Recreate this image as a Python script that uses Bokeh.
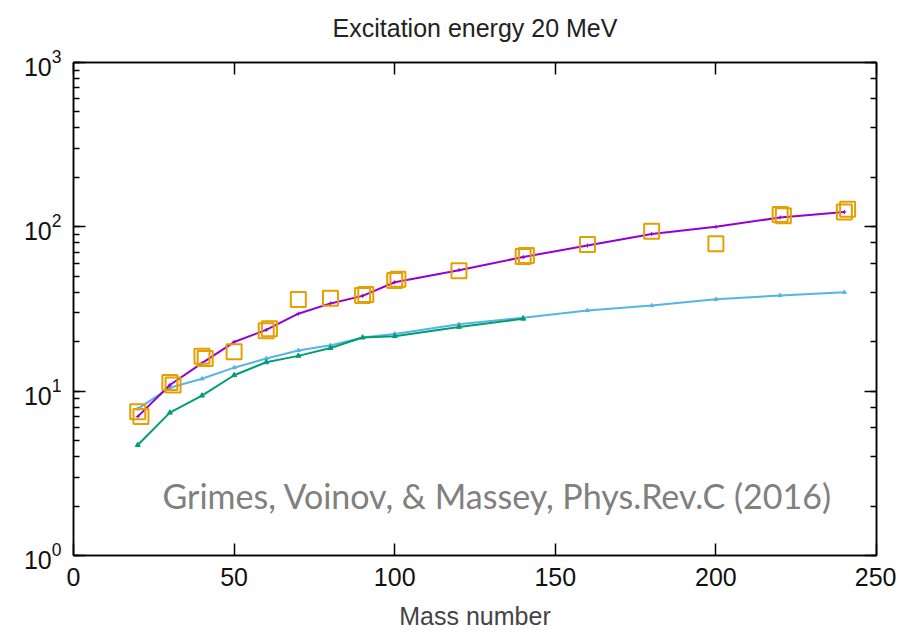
from bokeh.plotting import figure
from bokeh.models import LogAxis, LinearAxis, Label, FixedTicker, Range1d
from bokeh.embed import file_html
from bokeh.resources import INLINE

# Mass numbers
mass = [20, 30, 40, 50, 60, 70, 80, 90, 100, 120, 140, 160, 180, 200, 220, 240]
# Purple model curve
purple_vals = [7.0, 10.9, 14.8, 19.9, 23.6, 29.6, 34.2, 38.0, 46.0, 54.5, 65.5, 77.0, 90.5, 100.0, 114.0, 123.0]
# Blue model curve
blue_mass = [20, 30, 40, 50, 60, 70, 80, 90, 100, 120, 140, 160, 180, 200, 220, 240]
blue_vals = [7.8, 10.5, 11.9, 13.9, 15.8, 17.7, 19.0, 21.2, 22.3, 25.5, 28.0, 31.0, 33.2, 36.2, 38.2, 40.0]
# Green model curve
green_mass = [20, 30, 40, 50, 60, 70, 80, 90, 100, 120, 140]
green_vals = [4.7, 7.4, 9.4, 12.5, 15.0, 16.4, 18.3, 21.2, 21.6, 24.6, 27.6]
# Experimental points (orange squares), two overlapping sets
exp1_mass = [20, 30, 40, 50, 60, 70, 80, 90, 100, 120, 140, 160, 180, 200, 220, 240]
exp1_vals = [7.5, 11.3, 16.3, 17.4, 23.3, 36.1, 36.7, 38.2, 47.2, 54.0, 66.0, 78.0, 94.0, 79.0, 119.0, 123.0]
exp2_mass = [21, 31, 41, 61, 91, 101, 141, 221, 241]
exp2_vals = [7.0, 10.9, 15.8, 24.0, 38.8, 48.0, 67.0, 117.0, 128.0]

x_ticks = [0, 50, 100, 150, 200, 250]
title_text = "Excitation energy 20 MeV"
credit_text = "Grimes, Voinov, & Massey, Phys.Rev.C (2016)"

PURPLE = "#9400d3"
GREEN = "#009e73"
BLUE = "#56b4e9"
ORANGE = "#e69f00"
FONT = "Liberation Sans"

p = figure(width=896, height=632, output_backend="svg", toolbar_location=None,
           y_axis_type="log", x_range=Range1d(0, 250), y_range=Range1d(1, 1000),
           min_border_left=73, min_border_right=20, min_border_top=62, min_border_bottom=77,
           title=title_text)
p.title.align = "center"
p.title.text_font = FONT
p.title.text_font_size = "25px"
p.title.text_font_style = "normal"
p.title.text_color = "#222222"
p.title.standoff = 4

p.grid.visible = False
p.outline_line_color = "black"
p.outline_line_width = 1.5

def style_axis(ax, labels=True):
    ax.axis_line_color = "black"
    ax.axis_line_width = 1.5
    ax.major_tick_in = 12
    ax.major_tick_out = 0
    ax.minor_tick_in = 6
    ax.minor_tick_out = 0
    ax.major_tick_line_width = 1.5
    ax.minor_tick_line_width = 1.5
    ax.major_label_text_font = FONT
    ax.major_label_text_font_size = "25px"
    ax.major_label_text_color = "#111111"
    if not labels:
        ax.major_label_text_font_size = "0px"
        ax.major_label_text_alpha = 0

xa = p.xaxis[0]
style_axis(xa)
xa.ticker = FixedTicker(ticks=x_ticks)
xa.minor_tick_line_color = None
xa.major_label_standoff = 12
xa.axis_label = "Mass number"
xa.axis_label_text_font = FONT
xa.axis_label_text_font_size = "25px"
xa.axis_label_text_font_style = "normal"
xa.axis_label_standoff = 13

ya = p.yaxis[0]
style_axis(ya)
ya.major_label_standoff = 12

# Mirror axis on top; an invisible spacer label lifts the title
top = LinearAxis(ticker=FixedTicker(ticks=x_ticks))
style_axis(top, labels=False)
top.minor_tick_line_color = None
top.axis_label = "."
top.axis_label_text_alpha = 0
top.axis_label_text_font_size = "16px"
top.axis_label_standoff = 4
p.add_layout(top, "above")

right = LogAxis()
style_axis(right, labels=False)
p.add_layout(right, "right")

p.line(blue_mass, blue_vals, line_color=BLUE, line_width=2)
p.scatter(blue_mass, blue_vals, marker="triangle", size=4, color=BLUE)
p.line(green_mass, green_vals, line_color=GREEN, line_width=2)
p.scatter(green_mass, green_vals, marker="triangle", size=5, color=GREEN)
p.line(mass, purple_vals, line_color=PURPLE, line_width=2)
p.scatter(mass, purple_vals, marker="cross", size=4, color=PURPLE)

p.scatter(exp1_mass, exp1_vals, marker="square", size=15, fill_color=None,
          line_color=ORANGE, line_width=2)
p.scatter(exp2_mass, exp2_vals, marker="square", size=15, fill_color=None,
          line_color=ORANGE, line_width=2)

p.add_layout(Label(x=27.7, y=2.32, text=credit_text,
                   text_font="Lato", text_font_size="34px", text_color="#808080",
                   text_baseline="middle", text_align="left"))

open("out.html", "w").write(file_html(p, INLINE))
